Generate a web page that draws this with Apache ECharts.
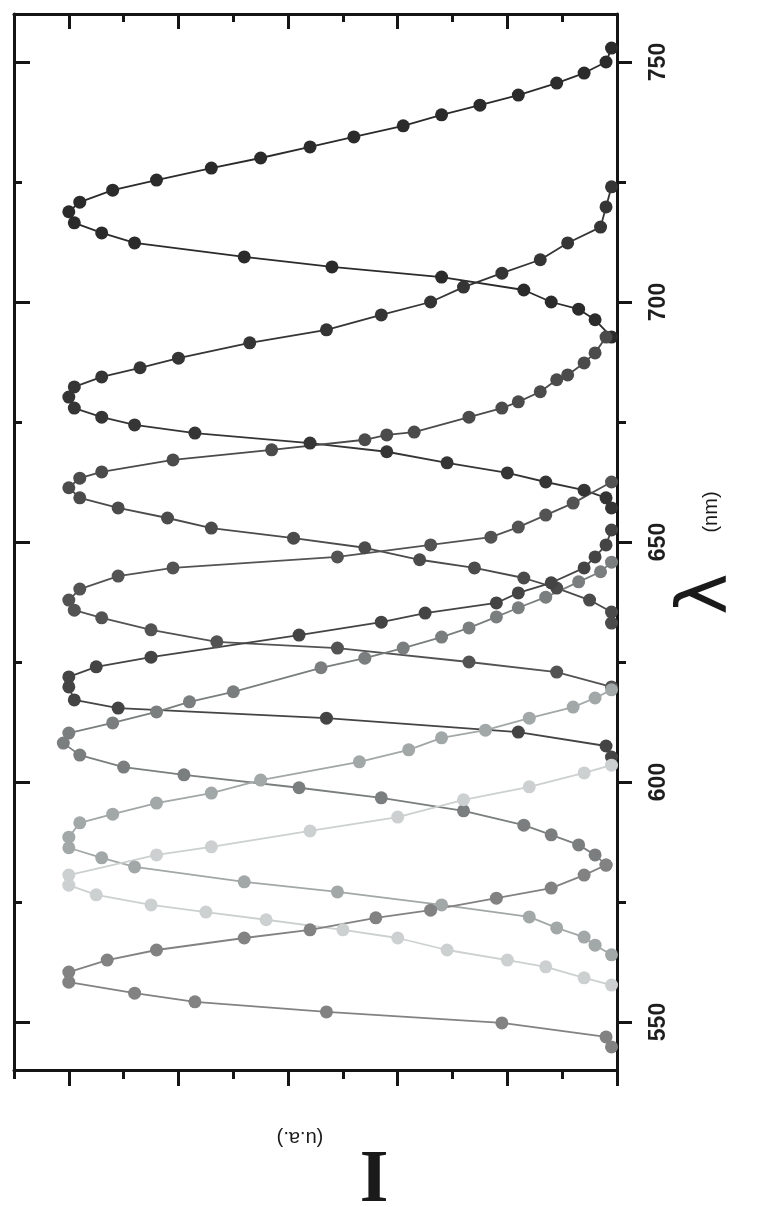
<!DOCTYPE html>
<html><head><meta charset="utf-8">
<script src="https://cdn.jsdelivr.net/npm/echarts@6/dist/echarts.min.js"></script>
<style>html,body{margin:0;padding:0;background:#fff}#c{width:768px;height:1207px}</style>
</head><body><div id="c"></div>
<script>
// Axis tick values
const majorI = [0, 0.2, 0.4, 0.6, 0.8, 1.0];
const minorI = [0.1, 0.3, 0.5, 0.7, 0.9, 1.1];
const majorL = [550, 600, 650, 700, 750];
const minorL = [575, 625, 675, 725];

// Curves: wavelength (nm) and intensity (u.a.)
const lamA = [752.9,750.0,747.7,745.6,743.1,741.0,739.0,736.7,734.4,732.3,730.0,727.9,725.4,723.3,720.8,718.8,716.5,714.4,712.3,709.4,707.3,705.2,702.5,700.0,698.5,696.3,692.7];
const intA = [0.01,0.02,0.06,0.11,0.18,0.25,0.32,0.39,0.48,0.56,0.65,0.74,0.84,0.92,0.98,1.00,0.99,0.94,0.88,0.68,0.52,0.32,0.17,0.12,0.07,0.04,0.01];

const lamB = [724.0,719.8,715.6,712.3,708.8,706.0,703.1,700.0,697.3,694.2,691.5,688.3,686.3,684.4,682.3,680.2,677.9,676.0,674.4,672.7,670.6,668.8,666.5,664.4,662.5,660.8,659.2,657.1];
const intB = [0.01,0.02,0.03,0.09,0.14,0.21,0.28,0.34,0.43,0.53,0.67,0.80,0.87,0.94,0.99,1.00,0.99,0.94,0.88,0.77,0.56,0.42,0.31,0.20,0.13,0.06,0.02,0.01];

const lamC = [692.7,689.4,687.3,684.8,683.8,681.3,679.2,677.9,676.0,672.9,672.3,671.3,669.2,667.1,664.6,663.3,661.3,659.2,657.1,655.0,652.9,650.8,648.8,646.3,644.6,642.5,640.4,637.9,635.4,633.1];
const intC = [0.02,0.04,0.06,0.09,0.11,0.14,0.18,0.21,0.27,0.37,0.42,0.46,0.63,0.81,0.94,0.98,1.00,0.98,0.91,0.82,0.74,0.59,0.46,0.36,0.26,0.17,0.11,0.05,0.01,0.01];

const lamD = [662.5,658.1,655.6,653.1,651.0,649.4,646.9,644.6,642.9,640.2,637.9,635.8,634.2,631.7,629.2,627.9,625.0,622.9,619.8];
const intD = [0.01,0.08,0.13,0.18,0.23,0.34,0.51,0.81,0.91,0.98,1.00,0.99,0.94,0.85,0.73,0.51,0.27,0.11,0.01];

const lamE = [652.5,649.4,646.9,644.6,641.5,639.4,637.3,635.2,633.3,630.6,626.0,624.0,621.9,619.8,617.1,615.4,613.3,610.4,607.5,605.2];
const intE = [0.01,0.02,0.04,0.06,0.12,0.18,0.22,0.35,0.43,0.58,0.85,0.95,1.00,1.00,0.99,0.91,0.53,0.18,0.02,0.01];

const lamF = [645.8,643.8,641.7,638.5,636.3,634.4,632.1,630.2,627.9,625.8,623.8,618.8,616.7,614.6,612.3,610.2,608.1,605.6,603.1,601.5,598.8,596.7,594.0,591.0,589.0,586.9,584.8,582.7];
const intF = [0.01,0.03,0.07,0.13,0.18,0.22,0.27,0.32,0.39,0.46,0.54,0.70,0.78,0.84,0.92,1.00,1.01,0.98,0.90,0.79,0.58,0.43,0.28,0.17,0.12,0.07,0.04,0.02];

const lamG = [619.2,617.5,615.6,613.3,610.8,609.2,606.7,604.2,600.4,597.7,595.6,593.3,591.5,588.5,586.3,584.2,582.3,579.2,577.1,574.4,571.9,569.6,567.7,566.0,564.0];
const intG = [0.01,0.04,0.08,0.16,0.24,0.32,0.38,0.47,0.65,0.74,0.84,0.92,0.98,1.00,1.00,0.94,0.88,0.68,0.51,0.32,0.16,0.11,0.06,0.04,0.01];

const lamH = [603.5,601.9,599.0,596.3,592.7,589.8,586.5,584.8,580.6,578.5,576.5,574.4,572.9,571.3,569.2,567.5,565.0,562.9,561.5,559.2,557.7];
const intH = [0.01,0.06,0.16,0.28,0.40,0.56,0.74,0.84,1.00,1.00,0.95,0.85,0.75,0.64,0.50,0.40,0.31,0.20,0.13,0.06,0.01];

const lamI = [582.7,580.6,577.9,575.8,573.3,571.7,569.2,567.5,565.0,562.9,560.4,558.3,556.0,554.2,552.1,549.8,546.9,544.8];
const intI = [0.02,0.06,0.12,0.22,0.34,0.44,0.56,0.68,0.84,0.93,1.00,1.00,0.88,0.77,0.53,0.21,0.02,0.01];

const curveColors = ['#2b2b2b','#353535','#4b4b4b','#535353','#444444','#7a7e7e','#a2a7a7','#cdd0d0','#828282'];
const curves = [[lamA,intA],[lamB,intB],[lamC,intC],[lamD,intD],[lamE,intE],[lamF,intF],[lamG,intG],[lamH,intH],[lamI,intI]];

const AX = '#151515';
const gridRect = {left: 14, right: 151, top: 14, bottom: 137, containLabel: false};
function xAx(gi, pos, vals, len, showLine, inside) {
  return {type: 'value', gridIndex: gi, position: pos, inverse: true, min: 0, max: 1.1,
    axisLine: {show: showLine, onZero: false, lineStyle: {color: AX, width: 3}},
    axisTick: {show: true, inside: inside, customValues: vals, length: len, lineStyle: {color: AX, width: 3}},
    axisLabel: {show: false}, splitLine: {show: false}, minorTick: {show: false}};
}
function yAx(gi, pos, vals, len, showLine, inside, labels) {
  return {type: 'value', gridIndex: gi, position: pos, min: 540, max: 760,
    axisLine: {show: showLine, onZero: false, lineStyle: {color: AX, width: 3}},
    axisTick: {show: true, inside: inside, customValues: vals, length: len, lineStyle: {color: AX, width: 3}},
    axisLabel: labels ? {show: true, customValues: majorL, rotate: 90, margin: 30, fontSize: 23,
      fontWeight: 'bold', fontFamily: 'Liberation Sans', color: '#1e1e1e'} : {show: false},
    splitLine: {show: false}, minorTick: {show: false}};
}

const chart = echarts.init(document.getElementById('c'), null, {renderer: 'canvas'});
chart.setOption({
  backgroundColor: '#ffffff',
  animation: false,
  grid: [Object.assign({}, gridRect), Object.assign({}, gridRect), Object.assign({}, gridRect), Object.assign({}, gridRect)],
  xAxis: [
    xAx(0, 'bottom', majorI, 16, true, false),
    xAx(1, 'bottom', minorI, 9, false, false),
    xAx(2, 'top', majorI, 15, true, true),
    xAx(3, 'top', minorI, 8, false, true)
  ],
  yAxis: [
    yAx(0, 'right', majorL, 15, true, false, true),
    yAx(1, 'right', minorL, 9, false, false, false),
    yAx(2, 'left', majorL, 16, true, true, false),
    yAx(3, 'left', minorL, 8, false, true, false)
  ],
  series: curves.map((c, k) => ({
    type: 'line', xAxisIndex: 0, yAxisIndex: 0,
    data: c[0].map((l, i) => [c[1][i], l]),
    symbol: 'circle', symbolSize: 13, showSymbol: true,
    lineStyle: {color: curveColors[k], width: 1.8},
    itemStyle: {color: curveColors[k]},
    emphasis: {disabled: true}
  })),
  graphic: [
    {type: 'text', x: 708, y: 594, rotation: Math.PI / 2,
      style: {text: 'λ', font: '70px "DejaVu Sans"', fill: '#1a1a1a', textAlign: 'center', textVerticalAlign: 'middle', align: 'center', verticalAlign: 'middle'}},
    {type: 'text', x: 711, y: 512, rotation: Math.PI / 2,
      style: {text: '(nm)', font: '20px "Liberation Sans"', fill: '#1a1a1a', textAlign: 'center', textVerticalAlign: 'middle', align: 'center', verticalAlign: 'middle'}},
    {type: 'text', x: 374, y: 1171, rotation: Math.PI,
      style: {text: 'I', font: 'bold 74px "Liberation Serif"', fill: '#1a1a1a', textAlign: 'center', textVerticalAlign: 'middle', align: 'center', verticalAlign: 'middle'}},
    {type: 'text', x: 300, y: 1138, rotation: Math.PI,
      style: {text: '(u.a.)', font: '20px "Liberation Sans"', fill: '#1a1a1a', textAlign: 'center', textVerticalAlign: 'middle', align: 'center', verticalAlign: 'middle'}}
  ]
});
</script>
</body></html>
